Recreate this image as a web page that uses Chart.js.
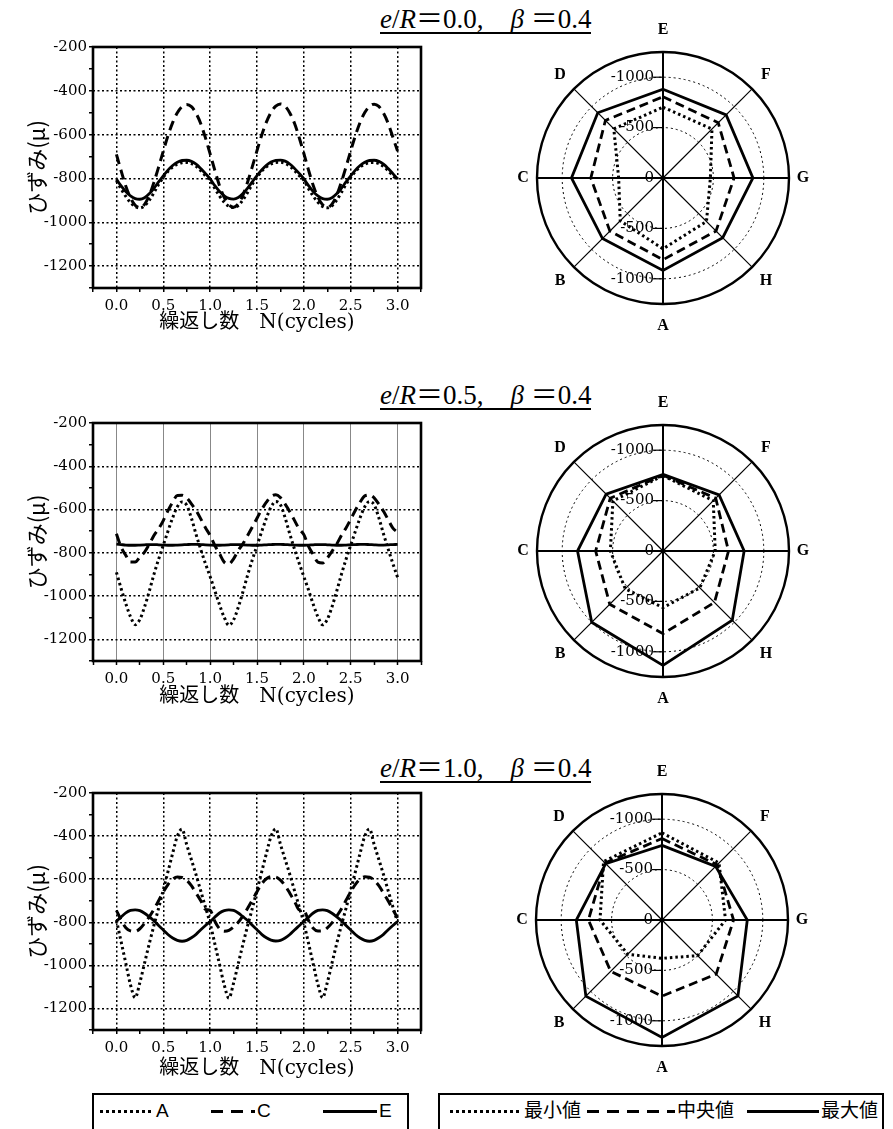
<!DOCTYPE html>
<html>
<head>
<meta charset="utf-8">
<script src="https://cdn.jsdelivr.net/npm/chart.js@4.4.1/dist/chart.umd.min.js"></script>
<style>
  body { margin: 0; background: #fff; width: 893px; height: 1129px; position: relative; overflow: hidden; }
  canvas { position: absolute; }
  .ttl { position: absolute; left: 380px; font-family: 'Liberation Serif', 'Noto Sans CJK JP', serif; font-size: 27px;
         line-height: 26px; white-space: nowrap; border-bottom: 2px solid #000; color: #000; }
  .lg { position: absolute; top: 1093px; height: 60px; border: 2px solid #000; box-sizing: border-box;
        font-family: 'Liberation Sans', 'Noto Sans CJK JP', sans-serif; font-size: 19px; color: #000; }
  .it { position: absolute; top: 5px; white-space: nowrap; line-height: 22px; }
  .ln { display: inline-block; height: 3px; vertical-align: middle; margin-right: 2px; }
  .ln.dotted { background: repeating-linear-gradient(to right, #000 0 3px, transparent 3px 6px); }
  .ln.dashed { background: repeating-linear-gradient(to right, #000 0 12px, transparent 12px 20px); }
  .ln.solid { background: #000; }
</style>
</head>
<body>

<div class="ttl" style="top:6px"><i>e</i>/<i>R</i>＝0.0,　<i>β</i> ＝0.4</div>
<div class="ttl" style="top:382px"><i>e</i>/<i>R</i>＝0.5,　<i>β</i> ＝0.4</div>
<div class="ttl" style="top:755px"><i>e</i>/<i>R</i>＝1.0,　<i>β</i> ＝0.4</div>

<canvas id="line1" width="440" height="307" style="left:0;top:36px"></canvas>
<canvas id="line2" width="440" height="304" style="left:0;top:412px"></canvas>
<canvas id="line3" width="440" height="303" style="left:0;top:782px"></canvas>

<canvas id="radar1" width="340" height="340" style="left:493px;top:8px"></canvas>
<canvas id="radar2" width="340" height="340" style="left:493px;top:381px"></canvas>
<canvas id="radar3" width="340" height="340" style="left:492px;top:750px"></canvas>

<div class="lg" id="legend1" style="left:92px;width:317px"></div>
<div class="lg" id="legend2" style="left:438px;width:446px"></div>

<script>
// cycles N
const N = [0, 0.05, 0.1, 0.15, 0.2, 0.25, 0.3, 0.35, 0.4, 0.45, 0.5, 0.55, 0.6, 0.65, 0.7, 0.75, 0.8, 0.85, 0.9, 0.95,
           1, 1.05, 1.1, 1.15, 1.2, 1.25, 1.3, 1.35, 1.4, 1.45, 1.5, 1.55, 1.6, 1.65, 1.7, 1.75, 1.8, 1.85, 1.9, 1.95,
           2, 2.05, 2.1, 2.15, 2.2, 2.25, 2.3, 2.35, 2.4, 2.45, 2.5, 2.55, 2.6, 2.65, 2.7, 2.75, 2.8, 2.85, 2.9, 2.95, 3];

const cycleTicks = [0, 0.5, 1, 1.5, 2, 2.5, 3];
const strainTicks = [-200, -400, -600, -800, -1000, -1200];

const seriesNames = ['A', 'C', 'E'];
const statNames = ['最小値', '中央値', '最大値'];

// e/R = 0.0
const r00_A = [-810, -848, -882, -910, -928, -935, -925, -900, -865, -828, -795, -768, -748, -735, -728, -727, -732, -745, -765, -788,
               -808, -846, -880, -908, -927, -933, -924, -898, -864, -826, -794, -767, -747, -734, -727, -726, -731, -744, -764, -787,
               -808, -847, -881, -909, -928, -934, -925, -899, -864, -827, -795, -768, -748, -735, -728, -727, -732, -745, -765, -788, -806];
const r00_C = [-690, -765, -835, -888, -922, -933, -918, -878, -818, -748, -675, -605, -545, -500, -472, -462, -472, -503, -550, -615,
               -688, -763, -833, -886, -920, -931, -916, -876, -816, -746, -673, -603, -543, -498, -470, -460, -470, -501, -548, -613,
               -686, -762, -832, -886, -920, -932, -917, -877, -817, -747, -674, -604, -544, -499, -471, -461, -471, -502, -549, -612, -675];
const r00_E = [-803, -834, -860, -880, -892, -895, -888, -870, -845, -816, -788, -762, -741, -726, -718, -717, -722, -735, -755, -778,
               -802, -833, -859, -879, -891, -894, -887, -869, -844, -815, -787, -761, -740, -725, -717, -716, -721, -734, -754, -777,
               -802, -833, -860, -880, -892, -895, -888, -870, -845, -816, -788, -762, -741, -726, -718, -717, -722, -735, -755, -778, -802];

// e/R = 0.5
const r05_A = [-890, -965, -1035, -1095, -1132, -1108, -1050, -978, -900, -830, -765, -700, -638, -587, -565, -580, -640, -715, -785, -850,
               -910, -975, -1040, -1098, -1135, -1110, -1052, -980, -903, -832, -767, -702, -640, -588, -563, -578, -638, -713, -783, -848,
               -910, -972, -1038, -1096, -1133, -1108, -1050, -978, -901, -830, -765, -700, -638, -587, -563, -578, -638, -713, -783, -850, -913];
const r05_C = [-712, -774, -812, -843, -843, -820, -797, -761, -720, -689, -651, -605, -566, -535, -534, -546, -574, -605, -643, -684,
               -720, -766, -804, -843, -851, -828, -789, -758, -720, -681, -640, -600, -566, -540, -532, -545, -575, -610, -650, -690,
               -716, -770, -808, -843, -847, -824, -793, -760, -720, -685, -645, -603, -566, -537, -533, -546, -575, -608, -647, -686, -705];
const r05_E = [-760, -762, -764, -765, -765, -764, -763, -762, -762, -763, -764, -765, -765, -764, -763, -762, -761, -761, -762, -763,
               -764, -765, -765, -764, -763, -762, -762, -763, -764, -765, -765, -764, -763, -762, -761, -761, -762, -763, -764, -765,
               -765, -764, -763, -762, -762, -763, -764, -765, -765, -764, -763, -762, -761, -761, -762, -763, -764, -764, -763, -762, -761];

// e/R = 1.0
const r10_A = [-790, -890, -990, -1090, -1150, -1080, -990, -900, -815, -735, -650, -565, -480, -400, -368, -440, -510, -580, -655, -730,
               -805, -900, -995, -1090, -1152, -1082, -992, -902, -816, -736, -651, -566, -481, -401, -366, -438, -508, -578, -653, -728,
               -803, -898, -994, -1088, -1150, -1080, -990, -900, -815, -735, -650, -565, -480, -400, -367, -439, -509, -579, -654, -729, -800];
const r10_C = [-745, -790, -825, -840, -842, -830, -805, -775, -740, -700, -660, -625, -600, -590, -592, -605, -630, -665, -700, -740,
               -745, -795, -830, -842, -838, -822, -800, -770, -735, -697, -658, -622, -598, -588, -590, -604, -630, -665, -702, -742,
               -745, -792, -828, -841, -840, -826, -803, -772, -738, -698, -659, -624, -599, -589, -591, -605, -630, -665, -701, -741, -780];
const r10_E = [-795, -775, -756, -745, -742, -746, -758, -775, -793, -815, -836, -857, -873, -884, -888, -884, -872, -856, -835, -815,
               -797, -776, -757, -746, -742, -745, -757, -774, -792, -814, -835, -856, -872, -883, -887, -884, -873, -857, -836, -816,
               -796, -776, -757, -745, -742, -746, -758, -775, -793, -815, -836, -857, -873, -884, -888, -884, -872, -856, -835, -815, -797];

// radar: gauges clockwise from top, values are |strain|
const gauges = ['E', 'F', 'G', 'H', 'A', 'B', 'C', 'D'];
const ringValues = [0, 500, 1000, 1250];
const ringLabels = [0, 500, 1000];

const rad00_max = [880, 886, 892, 838, 917, 849, 908, 915];
const rad00_mid = [806, 775, 705, 744, 811, 745, 716, 808];
const rad00_min = [702, 687, 470, 610, 703, 600, 440, 690];

const rad05_max = [760, 787, 805, 972, 1135, 1000, 848, 798];
const rad05_mid = [752, 740, 650, 722, 820, 747, 668, 740];
const rad05_min = [748, 705, 518, 517, 562, 530, 522, 703];

const rad10_max = [740, 752, 846, 1066, 1165, 1068, 850, 790];
const rad10_mid = [808, 775, 710, 760, 755, 720, 730, 800];
const rad10_min = [865, 800, 630, 500, 380, 480, 615, 820];

const tickFont = { family: "'DejaVu Serif', serif", size: 15 };
const axisTitleFont = { family: "'DejaVu Serif', 'Noto Sans CJK JP', serif", size: 20 };

function near(v, list) {
  return list.some(t => Math.abs(t - v) < 1e-6);
}

// heavy frame round the plot area
const frame = {
  id: 'frame',
  afterDraw(chart) {
    const { ctx, chartArea: a } = chart;
    ctx.save();
    ctx.lineWidth = 2.6;
    ctx.strokeStyle = '#000';
    ctx.strokeRect(a.left, a.top, a.right - a.left, a.bottom - a.top);
    ctx.restore();
  }
};

function makeLine(id, A, C, E, vgrid, titlePad) {
  const pts = arr => N.map((x, i) => ({ x, y: arr[i] }));
  new Chart(document.getElementById(id), {
    type: 'line',
    data: {
      datasets: [
        { label: 'E', data: pts(E), borderColor: '#000', borderWidth: 2.8 },
        { label: 'C', data: pts(C), borderColor: '#000', borderWidth: 3, borderDash: [10, 6] },
        { label: 'A', data: pts(A), borderColor: '#000', borderWidth: 3, borderDash: [2.5, 3] }
      ]
    },
    options: {
      responsive: false,
      animation: false,
      layout: { padding: { top: 10, right: 19, left: 0, bottom: 0 } },
      elements: { point: { radius: 0 }, line: { cubicInterpolationMode: 'monotone' } },
      plugins: { legend: { display: false }, tooltip: { enabled: false } },
      scales: {
        x: {
          type: 'linear', min: -0.25, max: 3.25,
          afterFit: s => { s.height = 55; },
          afterBuildTicks: s => {
            const t = [];
            for (let v = -0.25; v <= 3.26; v += 0.25) t.push({ value: Math.round(v * 100) / 100 });
            s.ticks = t;
          },
          ticks: {
            autoSkip: false, maxRotation: 0, padding: 5, color: '#000', font: tickFont,
            callback: v => near(v, cycleTicks) ? v.toFixed(1) : ''
          },
          grid: {
            color: c => c.tick && near(c.tick.value, cycleTicks) ? vgrid.color : 'transparent',
            lineWidth: vgrid.width, tickLength: 4, tickColor: '#000', tickWidth: 1.5
          },
          border: { display: false, dash: vgrid.dash },
          title: { display: true, text: '繰返し数　N(cycles)', color: '#000', font: axisTitleFont,
                   padding: { top: 0, bottom: titlePad } }
        },
        y: {
          min: -1300, max: -200,
          afterFit: s => { s.width = 93; },
          afterBuildTicks: s => {
            const t = [];
            for (let v = -1300; v <= -200; v += 100) t.push({ value: v });
            s.ticks = t;
          },
          ticks: {
            autoSkip: false, padding: 2, color: '#000', font: tickFont,
            callback: v => near(v, strainTicks) ? String(v) : ''
          },
          grid: {
            color: c => c.tick && near(c.tick.value, strainTicks) && c.tick.value !== -200 ? '#000' : 'transparent',
            lineWidth: 1.5, tickLength: 4, tickColor: '#000', tickWidth: 1.5
          },
          border: { display: false, dash: [2, 2.5] },
          title: { display: true, text: 'ひずみ(μ)', color: '#000',
                   font: { family: "'Noto Sans CJK JP', sans-serif", size: 22 }, padding: { top: 23, bottom: 0 } }
        }
      }
    },
    plugins: [frame]
  });
}

// radial tick labels (up and down the E-A axis) and gauge names
const radarText = {
  id: 'radarText',
  afterDraw(chart) {
    const s = chart.scales.r;
    const ctx = chart.ctx;
    ctx.save();
    ctx.fillStyle = '#000';
    ctx.strokeStyle = '#000';
    ctx.lineWidth = 1.2;
    ctx.font = "15px 'DejaVu Serif', serif";
    ctx.textAlign = 'right';
    ctx.textBaseline = 'middle';
    ringLabels.forEach(v => {
      const d = s.getDistanceFromCenterForValue(v);
      const txt = v === 0 ? '0' : '-' + v;
      const sides = v === 0 ? [0] : [-1, 1];
      sides.forEach(k => {
        const y = s.yCenter + k * d;
        ctx.fillText(txt, s.xCenter - 9, y);
        if (v !== 0) {
          ctx.beginPath();
          ctx.moveTo(s.xCenter - 10, y);
          ctx.lineTo(s.xCenter, y);
          ctx.stroke();
        }
      });
    });
    ctx.font = "bold 16px 'Liberation Serif', serif";
    ctx.textAlign = 'center';
    const R = s.getDistanceFromCenterForValue(1250);
    gauges.forEach((g, i) => {
      const p0 = s.getPointPosition(i, R);
      const off = 14 + 8 * Math.abs(Math.sin(p0.angle));
      const p = s.getPointPosition(i, R + off);
      ctx.fillText(g, p.x, p.y);
    });
    ctx.restore();
  }
};

function makeRadar(id, minV, midV, maxV) {
  new Chart(document.getElementById(id), {
    type: 'radar',
    data: {
      labels: gauges,
      datasets: [
        { label: statNames[2], data: maxV, borderColor: '#000', borderWidth: 2.8, fill: false },
        { label: statNames[1], data: midV, borderColor: '#000', borderWidth: 2.8, borderDash: [9, 5], fill: false },
        { label: statNames[0], data: minV, borderColor: '#000', borderWidth: 3, borderDash: [2.5, 3], fill: false }
      ]
    },
    options: {
      responsive: false,
      animation: false,
      layout: { padding: 44 },
      elements: { point: { radius: 0 }, line: { tension: 0 } },
      plugins: { legend: { display: false }, tooltip: { enabled: false } },
      scales: {
        r: {
          min: 0, max: 1250,
          afterBuildTicks: s => { s.ticks = ringValues.map(v => ({ value: v })); },
          ticks: { display: false },
          pointLabels: { display: false },
          grid: {
            circular: true, color: '#000',
            lineWidth: c => c.tick && c.tick.value === 1250 ? 2.4 : 1
          },
          border: { dash: c => c.tick && c.tick.value === 1250 ? [] : [2, 3] },
          angleLines: { color: '#000', lineWidth: c => c.index % 2 === 0 ? 2 : 1.2 }
        }
      }
    },
    plugins: [radarText]
  });
}

const dotted = { color: '#000', width: 1.5, dash: [2, 2.5] };
const thinSolid = { color: '#888', width: 1, dash: [] };

makeLine('line1', r00_A, r00_C, r00_E, dotted, 8.6);
makeLine('line2', r05_A, r05_C, r05_E, thinSolid, 7.6);
makeLine('line3', r10_A, r10_C, r10_E, dotted, 4.6);

makeRadar('radar1', rad00_min, rad00_mid, rad00_max);
makeRadar('radar2', rad05_min, rad05_mid, rad05_max);
makeRadar('radar3', rad10_min, rad10_mid, rad10_max);

// legends
const styles = ['dotted', 'dashed', 'solid'];
function fillLegend(id, names, lefts, widths) {
  const box = document.getElementById(id);
  names.forEach((n, i) => {
    const it = document.createElement('span');
    it.className = 'it';
    it.style.left = lefts[i] + 'px';
    const ln = document.createElement('span');
    ln.className = 'ln ' + styles[i];
    ln.style.width = widths[i] + 'px';
    it.appendChild(ln);
    it.appendChild(document.createTextNode(n));
    box.appendChild(it);
  });
}
fillLegend('legend1', seriesNames, [6, 117, 229], [54, 44, 54]);
fillLegend('legend2', statNames, [10, 147, 307], [72, 88, 72]);
</script>
</body>
</html>
